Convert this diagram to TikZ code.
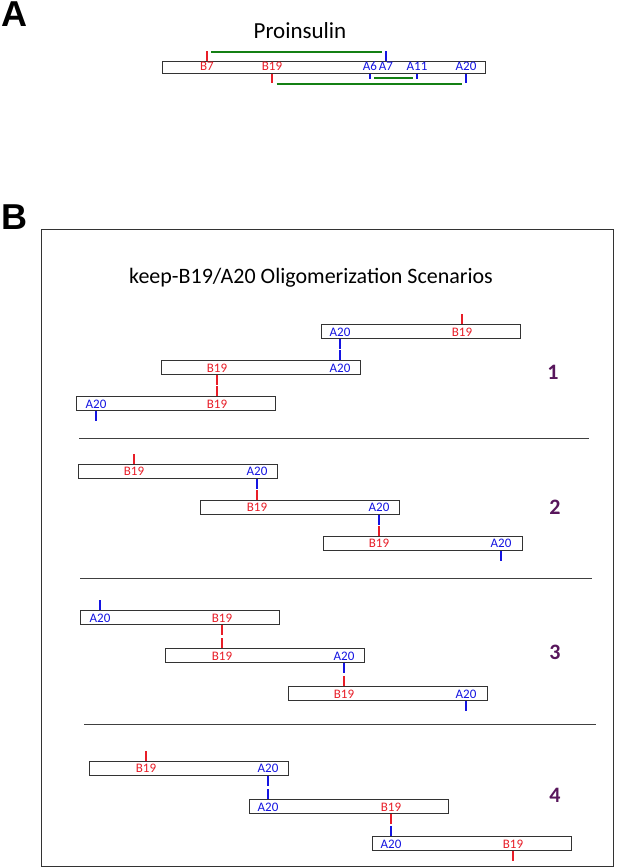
\documentclass[tikz,border=0pt]{standalone}
\usepackage{fontspec}
\setmainfont{Carlito}
\newfontfamily\panelfont{Liberation Sans}
\definecolor{bred}{RGB}{232,30,40}
\definecolor{bblue}{RGB}{20,20,225}
\definecolor{bgreen}{RGB}{20,128,20}
\definecolor{npurple}{RGB}{88,22,92}
\tikzset{
  strand/.style={draw=black!80, line width=1pt, fill=white, minimum width=199pt, minimum height=14pt, inner sep=0pt, anchor=north west},
  rlab/.style={text=bred, font=\fontsize{13}{13}\selectfont, inner sep=0pt, anchor=base},
  blab/.style={rlab, text=bblue},
  rtick/.style={draw=bred, line width=2pt},
  btick/.style={draw=bblue, line width=2pt},
  bond/.style={draw=bgreen, line width=2pt},
  num/.style={text=npurple, font=\fontsize{22}{22}\selectfont\bfseries, inner sep=0pt},
  sep/.style={draw=black!75, line width=1pt},
  panel/.style={font=\panelfont\bfseries\fontsize{36}{36}\selectfont, anchor=north west, inner sep=0pt}
}
\begin{document}
\begin{tikzpicture}[x=1pt, y=-1pt]
        \useasboundingbox (0,0) rectangle (617,868);

        % Proinsulin
        \node[panel] (la) at (1,2) {A};
        \node[font=\fontsize{23}{23}\selectfont, anchor=base, inner sep=0pt] (ptitle) at (300,38.5) {Proinsulin};
        \node[strand, minimum width=323.5pt, minimum height=12.8pt] (pbar) at (161.5,60.5) {};
        \node[rlab] (pB7) at (207,70.8) {B7};
        \node[rlab] (pB19) at (272,70.8) {B19};
        \node[blab] (pA6) at (370,70.8) {A6};
        \node[blab] (pA7) at (386,70.8) {A7};
        \node[blab] (pA11) at (417,70.8) {A11};
        \node[blab] (pA20) at (466,70.8) {A20};

        \draw[rtick] (pB7 |- pbar.north) -- ++(0,-9.5) coordinate (tB7);
        \draw[btick] (pA7 |- pbar.north) -- ++(0,-9.5) coordinate (tA7);
        \draw[bond] ([xshift=4pt,yshift=-1pt]tB7) -- ([xshift=-4pt,yshift=-1pt]tA7);
        \draw[rtick] (pB19 |- pbar.south) -- ++(0,9) coordinate (tB19);
        \draw[btick] (pA20 |- pbar.south) -- ++(0,9) coordinate (tA20);
        \draw[bond] ([xshift=4.5pt,yshift=-1pt]tB19) -- ([xshift=-4pt,yshift=-1pt]tA20);
        \draw[btick] (pA6 |- pbar.south) -- ++(0,5) coordinate (tA6);
        \draw[btick] (pA11 |- pbar.south) -- ++(0,5) coordinate (tA11);
        \draw[bond] ([xshift=4pt,yshift=1.5pt]tA6) -- ([xshift=-4.5pt,yshift=1.5pt]tA11);

        % Scenarios
        \node[panel] (lb) at (1,205) {B};
        \draw[line width=1pt, draw=black!80] (41,229) rectangle (613,866);
        \node[font=\fontsize{22}{22}\selectfont, anchor=base west, inner sep=0pt] (btitle) at (129,283) {keep-B19/A20 Oligomerization Scenarios};

        % 1
        \node[strand] (s1a) at (321,324) {};
        \node[blab] (s1aA) at (340,336.2) {A20};
        \node[rlab] (s1aB) at (462,336.2) {B19};
        \node[strand] (s1b) at (161,360) {};
        \node[rlab] (s1bB) at (217,372.2) {B19};
        \node[blab] (s1bA) at (340,372.2) {A20};
        \node[strand] (s1c) at (76,396) {};
        \node[blab] (s1cA) at (96,408.2) {A20};
        \node[rlab] (s1cB) at (217,408.2) {B19};
        \draw[rtick] (s1aB |- s1a.north) -- ++(0,-10);
        \draw[btick] (s1aA |- s1a.south) -- ++(0,10);
        \draw[btick] (s1bA |- s1b.north) -- ++(0,-10);
        \draw[rtick] (s1bB |- s1b.south) -- ++(0,10);
        \draw[rtick] (s1cB |- s1c.north) -- ++(0,-10);
        \draw[btick] (s1cA |- s1c.south) -- ++(0,10);
        \node[num] (n1) at (553,372) {1};
        \draw[sep] (79,438.5) -- (589,438.5);

        % 2
        \node[strand] (s2a) at (77.5,463.5) {};
        \node[rlab] (s2aB) at (134,475.7) {B19};
        \node[blab] (s2aA) at (257,475.7) {A20};
        \node[strand] (s2b) at (200,499.5) {};
        \node[rlab] (s2bB) at (257,511.7) {B19};
        \node[blab] (s2bA) at (379,511.7) {A20};
        \node[strand] (s2c) at (322.5,535.5) {};
        \node[rlab] (s2cB) at (379,547.7) {B19};
        \node[blab] (s2cA) at (501,547.7) {A20};
        \draw[rtick] (s2aB |- s2a.north) -- ++(0,-10);
        \draw[btick] (s2aA |- s2a.south) -- ++(0,10);
        \draw[rtick] (s2bB |- s2b.north) -- ++(0,-10);
        \draw[btick] (s2bA |- s2b.south) -- ++(0,10);
        \draw[rtick] (s2cB |- s2c.north) -- ++(0,-10);
        \draw[btick] (s2cA |- s2c.south) -- ++(0,10);
        \node[num] (n2) at (555,507.5) {2};
        \draw[sep] (80,578.5) -- (592,578.5);

        % 3
        \node[strand] (s3a) at (80,610) {};
        \node[blab] (s3aA) at (100,622.2) {A20};
        \node[rlab] (s3aB) at (222,622.2) {B19};
        \node[strand] (s3b) at (165,648) {};
        \node[rlab] (s3bB) at (222,660.2) {B19};
        \node[blab] (s3bA) at (344,660.2) {A20};
        \node[strand] (s3c) at (287.5,686) {};
        \node[rlab] (s3cB) at (344,698.2) {B19};
        \node[blab] (s3cA) at (466,698.2) {A20};
        \draw[btick] (s3aA |- s3a.north) -- ++(0,-10);
        \draw[rtick] (s3aB |- s3a.south) -- ++(0,10);
        \draw[rtick] (s3bB |- s3b.north) -- ++(0,-10);
        \draw[btick] (s3bA |- s3b.south) -- ++(0,10);
        \draw[rtick] (s3cB |- s3c.north) -- ++(0,-10);
        \draw[btick] (s3cA |- s3c.south) -- ++(0,10);
        \node[num] (n3) at (555,652) {3};
        \draw[sep] (84,724.5) -- (596,724.5);

        % 4
        \node[strand] (s4a) at (88.5,760.5) {};
        \node[rlab] (s4aB) at (146,772.7) {B19};
        \node[blab] (s4aA) at (268,772.7) {A20};
        \node[strand] (s4b) at (249,799) {};
        \node[blab] (s4bA) at (268,811.2) {A20};
        \node[rlab] (s4bB) at (391,811.2) {B19};
        \node[strand] (s4c) at (372,836) {};
        \node[blab] (s4cA) at (391,848.2) {A20};
        \node[rlab] (s4cB) at (513,848.2) {B19};
        \draw[rtick] (s4aB |- s4a.north) -- ++(0,-10);
        \draw[btick] (s4aA |- s4a.south) -- ++(0,10);
        \draw[btick] (s4bA |- s4b.north) -- ++(0,-10);
        \draw[rtick] (s4bB |- s4b.south) -- ++(0,10);
        \draw[btick] (s4cA |- s4c.north) -- ++(0,-10);
        \draw[rtick] (s4cB |- s4c.south) -- ++(0,10);
        \node[num] (n4) at (555,795) {4};
    \end{tikzpicture}
\end{document}
